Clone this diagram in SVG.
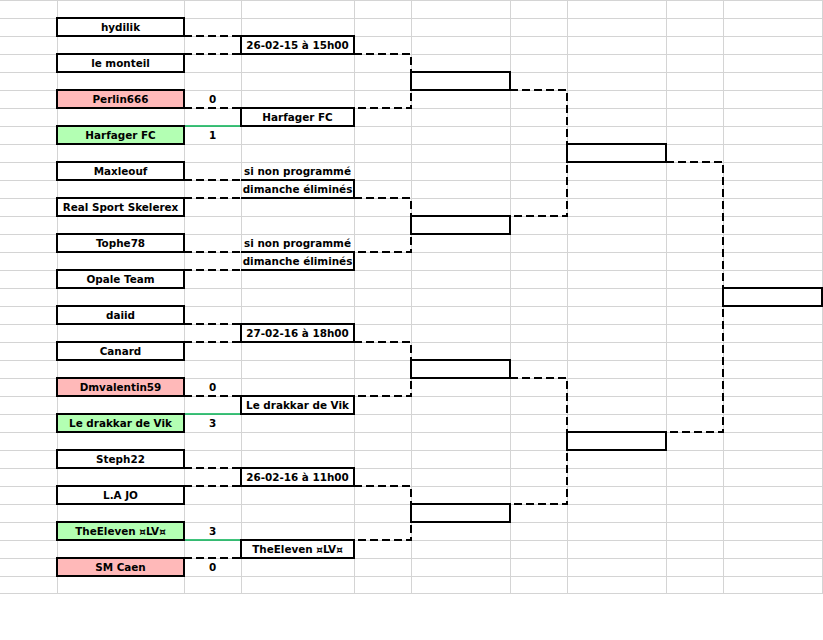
<svg xmlns="http://www.w3.org/2000/svg" width="823" height="640" viewBox="0 0 823 640">
<style>
.bg{fill:#ffffff}
.grid line{stroke:#d4d4d4;stroke-width:1}
.box{fill:#ffffff;stroke:#000000;stroke-width:2}
.lose{fill:#ffb9b9;stroke:#000000;stroke-width:2}
.win{fill:#b3ffb3;stroke:#000000;stroke-width:2}
.open{fill:none;stroke:#000000;stroke-width:2}
.dash{fill:none;stroke:#000000;stroke-width:2;stroke-dasharray:8 4}
.green{fill:none;stroke:#00b050;stroke-width:1.3}
text{font-family:"DejaVu Sans","Liberation Sans",sans-serif;font-weight:bold;font-size:10.4px;fill:#000000;text-anchor:middle}
</style>
<rect class="bg" x="0" y="0" width="823" height="640"/>
<g class="grid">
<line x1="0" y1="0.5" x2="823" y2="0.5"/><line x1="0" y1="18.5" x2="823" y2="18.5"/><line x1="0" y1="36.5" x2="823" y2="36.5"/><line x1="0" y1="54.5" x2="823" y2="54.5"/><line x1="0" y1="72.5" x2="823" y2="72.5"/><line x1="0" y1="90.5" x2="823" y2="90.5"/><line x1="0" y1="108.5" x2="823" y2="108.5"/><line x1="0" y1="126.5" x2="823" y2="126.5"/><line x1="0" y1="144.5" x2="823" y2="144.5"/><line x1="0" y1="162.5" x2="823" y2="162.5"/><line x1="0" y1="180.5" x2="823" y2="180.5"/><line x1="0" y1="198.5" x2="823" y2="198.5"/><line x1="0" y1="216.5" x2="823" y2="216.5"/><line x1="0" y1="234.5" x2="823" y2="234.5"/><line x1="0" y1="252.5" x2="823" y2="252.5"/><line x1="0" y1="270.5" x2="823" y2="270.5"/><line x1="0" y1="288.5" x2="823" y2="288.5"/><line x1="0" y1="306.5" x2="823" y2="306.5"/><line x1="0" y1="324.5" x2="823" y2="324.5"/><line x1="0" y1="342.5" x2="823" y2="342.5"/><line x1="0" y1="360.5" x2="823" y2="360.5"/><line x1="0" y1="378.5" x2="823" y2="378.5"/><line x1="0" y1="396.5" x2="823" y2="396.5"/><line x1="0" y1="414.5" x2="823" y2="414.5"/><line x1="0" y1="432.5" x2="823" y2="432.5"/><line x1="0" y1="450.5" x2="823" y2="450.5"/><line x1="0" y1="468.5" x2="823" y2="468.5"/><line x1="0" y1="486.5" x2="823" y2="486.5"/><line x1="0" y1="504.5" x2="823" y2="504.5"/><line x1="0" y1="522.5" x2="823" y2="522.5"/><line x1="0" y1="540.5" x2="823" y2="540.5"/><line x1="0" y1="558.5" x2="823" y2="558.5"/><line x1="0" y1="576.5" x2="823" y2="576.5"/><line x1="0" y1="593.5" x2="823" y2="593.5"/>
<line x1="57.5" y1="0" x2="57.5" y2="594"/><line x1="184.5" y1="0" x2="184.5" y2="594"/><line x1="241.5" y1="0" x2="241.5" y2="594"/><line x1="354.5" y1="0" x2="354.5" y2="594"/><line x1="411.5" y1="0" x2="411.5" y2="594"/><line x1="510.5" y1="0" x2="510.5" y2="594"/><line x1="567.5" y1="0" x2="567.5" y2="594"/><line x1="666.5" y1="0" x2="666.5" y2="594"/><line x1="723.5" y1="0" x2="723.5" y2="594"/><line x1="822.5" y1="0" x2="822.5" y2="594"/>
</g>
<g id="connectors">
<path class="dash" d="M184,36H241M184,54H241M184,108H241M184,180H241M184,198H241M184,252H241M184,270H241M184,324H241M184,342H241M184,396H241M184,468H241M184,486H241M184,558H241"/>
<path class="green" d="M184,126H241M184,414H241M184,540H241"/>
<path class="dash" d="M354,54H411V108H354"/>
<path class="dash" d="M354,198H411V252H354"/>
<path class="dash" d="M354,342H411V396H354"/>
<path class="dash" d="M354,486H411V540H354"/>
<path class="dash" d="M510,90H567V216H510"/>
<path class="dash" d="M510,378H567V504H510"/>
<path class="dash" d="M666,162H723V432H666"/>
</g>
<g id="team-hydilik"><rect class="box" x="57" y="18" width="127" height="18"/><text x="120.5" y="31">hydilik</text></g>
<g id="team-le-monteil"><rect class="box" x="57" y="54" width="127" height="18"/><text x="120.5" y="67">le monteil</text></g>
<g id="team-perlin666"><rect class="lose" x="57" y="90" width="127" height="18"/><text x="120.5" y="103">Perlin666</text><text x="212.5" y="103">0</text></g>
<g id="team-harfager"><rect class="win" x="57" y="126" width="127" height="18"/><text x="120.5" y="139">Harfager FC</text><text x="212.5" y="139">1</text></g>
<g id="team-maxleouf"><rect class="box" x="57" y="162" width="127" height="18"/><text x="120.5" y="175">Maxleouf</text></g>
<g id="team-real-sport"><rect class="box" x="57" y="198" width="127" height="18"/><text x="120.5" y="211">Real Sport Skelerex</text></g>
<g id="team-tophe78"><rect class="box" x="57" y="234" width="127" height="18"/><text x="120.5" y="247">Tophe78</text></g>
<g id="team-opale"><rect class="box" x="57" y="270" width="127" height="18"/><text x="120.5" y="283">Opale Team</text></g>
<g id="team-daiid"><rect class="box" x="57" y="306" width="127" height="18"/><text x="120.5" y="319">daiid</text></g>
<g id="team-canard"><rect class="box" x="57" y="342" width="127" height="18"/><text x="120.5" y="355">Canard</text></g>
<g id="team-dmvalentin59"><rect class="lose" x="57" y="378" width="127" height="18"/><text x="120.5" y="391">Dmvalentin59</text><text x="212.5" y="391">0</text></g>
<g id="team-drakkar"><rect class="win" x="57" y="414" width="127" height="18"/><text x="120.5" y="427">Le drakkar de Vik</text><text x="212.5" y="427">3</text></g>
<g id="team-steph22"><rect class="box" x="57" y="450" width="127" height="18"/><text x="120.5" y="463">Steph22</text></g>
<g id="team-lajo"><rect class="box" x="57" y="486" width="127" height="18"/><text x="120.5" y="499">L.A JO</text></g>
<g id="team-theeleven"><rect class="win" x="57" y="522" width="127" height="18"/><text x="120.5" y="535">TheEleven ¤LV¤</text><text x="212.5" y="535">3</text></g>
<g id="team-smcaen"><rect class="lose" x="57" y="558" width="127" height="18"/><text x="120.5" y="571">SM Caen</text><text x="212.5" y="571">0</text></g>
<g id="match-1"><rect class="box" x="241" y="36" width="113" height="18"/><text x="297.5" y="49">26-02-15 à 15h00</text></g>
<g id="match-2"><rect class="box" x="241" y="108" width="113" height="18"/><text x="297.5" y="121">Harfager FC</text></g>
<g id="match-3"><path class="open" d="M241,180H354V198H241"/><text x="297.5" y="175">si non programmé</text><text x="297.5" y="193">dimanche éliminés</text></g>
<g id="match-4"><path class="open" d="M241,252H354V270H241"/><text x="297.5" y="247">si non programmé</text><text x="297.5" y="265">dimanche éliminés</text></g>
<g id="match-5"><rect class="box" x="241" y="324" width="113" height="18"/><text x="297.5" y="337">27-02-16 à 18h00</text></g>
<g id="match-6"><rect class="box" x="241" y="396" width="113" height="18"/><text x="297.5" y="409">Le drakkar de Vik</text></g>
<g id="match-7"><rect class="box" x="241" y="468" width="113" height="18"/><text x="297.5" y="481">26-02-16 à 11h00</text></g>
<g id="match-8"><rect class="box" x="241" y="540" width="113" height="18"/><text x="297.5" y="553">TheEleven ¤LV¤</text></g>
<g id="qf-1"><rect class="box" x="411" y="72" width="99" height="18"/></g>
<g id="qf-2"><rect class="box" x="411" y="216" width="99" height="18"/></g>
<g id="qf-3"><rect class="box" x="411" y="360" width="99" height="18"/></g>
<g id="qf-4"><rect class="box" x="411" y="504" width="99" height="18"/></g>
<g id="sf-1"><rect class="box" x="567" y="144" width="99" height="18"/></g>
<g id="sf-2"><rect class="box" x="567" y="432" width="99" height="18"/></g>
<g id="final"><rect class="box" x="723" y="288" width="99" height="18"/></g>
</svg>
